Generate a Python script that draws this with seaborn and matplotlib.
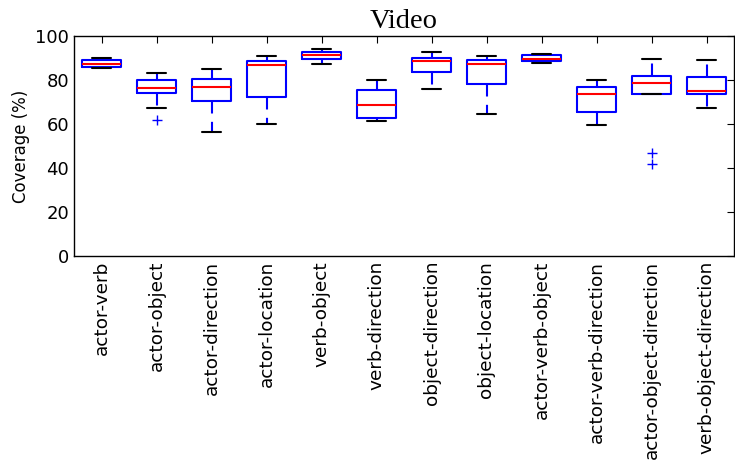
import numpy as np
import matplotlib.pyplot as plt
import seaborn as sns
import pandas as pd

sns.set_style('white')
plt.rcParams['font.family'] = ['DejaVu Sans']
plt.rcParams['text.color'] = 'black'
plt.rcParams['axes.labelcolor'] = 'black'
plt.rcParams['xtick.color'] = 'black'
plt.rcParams['ytick.color'] = 'black'

categories = ['actor-verb', 'actor-object', 'actor-direction', 'actor-location',
              'verb-object', 'verb-direction', 'object-direction', 'object-location',
              'actor-verb-object', 'actor-verb-direction', 'actor-object-direction',
              'verb-object-direction']

# five-number summaries (coverage %)
whis_lo = [85.6, 67.3, 56.5, 60.0, 87.1, 61.4, 75.9, 64.7, 87.6, 59.5, 73.5, 67.3]
q1      = [85.9, 73.9, 70.5, 72.3, 89.5, 62.9, 83.6, 78.3, 88.5, 65.3, 73.8, 73.5]
median  = [87.4, 76.5, 77.0, 86.7, 91.4, 68.6, 88.5, 87.1, 89.5, 73.5, 78.5, 75.0]
q3      = [89.1, 79.8, 80.5, 88.6, 92.9, 75.5, 89.8, 89.1, 91.4, 76.8, 81.8, 81.2]
whis_hi = [89.9, 83.2, 85.2, 91.1, 94.0, 79.8, 92.9, 90.9, 91.8, 79.8, 89.5, 89.1]

flier_cat = ['actor-object', 'actor-object-direction', 'actor-object-direction']
flier_val = [61.8, 47.0, 41.7]

rows = []
for i, c in enumerate(categories):
    for v in (whis_lo[i], q1[i], median[i], q3[i], whis_hi[i]):
        rows.append({'task': c, 'coverage': v})
df = pd.DataFrame(rows)
fl = pd.DataFrame({'task': flier_cat, 'coverage': flier_val})

fig = plt.figure(figsize=(7.35, 4.68), dpi=100)
ax = fig.add_axes([74/735, 1 - 256/468, 660/735, 220/468])

sns.boxplot(data=df, x='task', y='coverage', order=categories, ax=ax,
            whis=np.inf, width=0.72, fill=False, color='blue', linewidth=1.5,
            boxprops=dict(color='blue'),
            medianprops=dict(color='red'),
            whiskerprops=dict(color='blue', linestyle='--', dashes=(6, 4)),
            capprops=dict(color='black'))
sns.stripplot(data=fl, x='task', y='coverage', order=categories, ax=ax,
              jitter=False, marker='+', color='blue', size=6.5, linewidth=1)

ax.set_ylim(0, 100)
ax.set_xlim(-0.5, len(categories) - 0.5)
ax.set_yticks([0, 20, 40, 60, 80, 100])
ax.set_xlabel('')
ax.set_ylabel('Coverage (%)', fontsize=12)
ax.set_title('Video', fontsize=20.5, family='Liberation Serif', pad=6)
ax.tick_params(axis='both', direction='in', length=5, top=True, right=True,
               labelsize=13, color='black')
ax.tick_params(axis='x', labelrotation=90, labelsize=13.3)
for s in ax.spines.values():
    s.set_color('black')
    s.set_linewidth(1)

fig.savefig('out.png', dpi=100)
